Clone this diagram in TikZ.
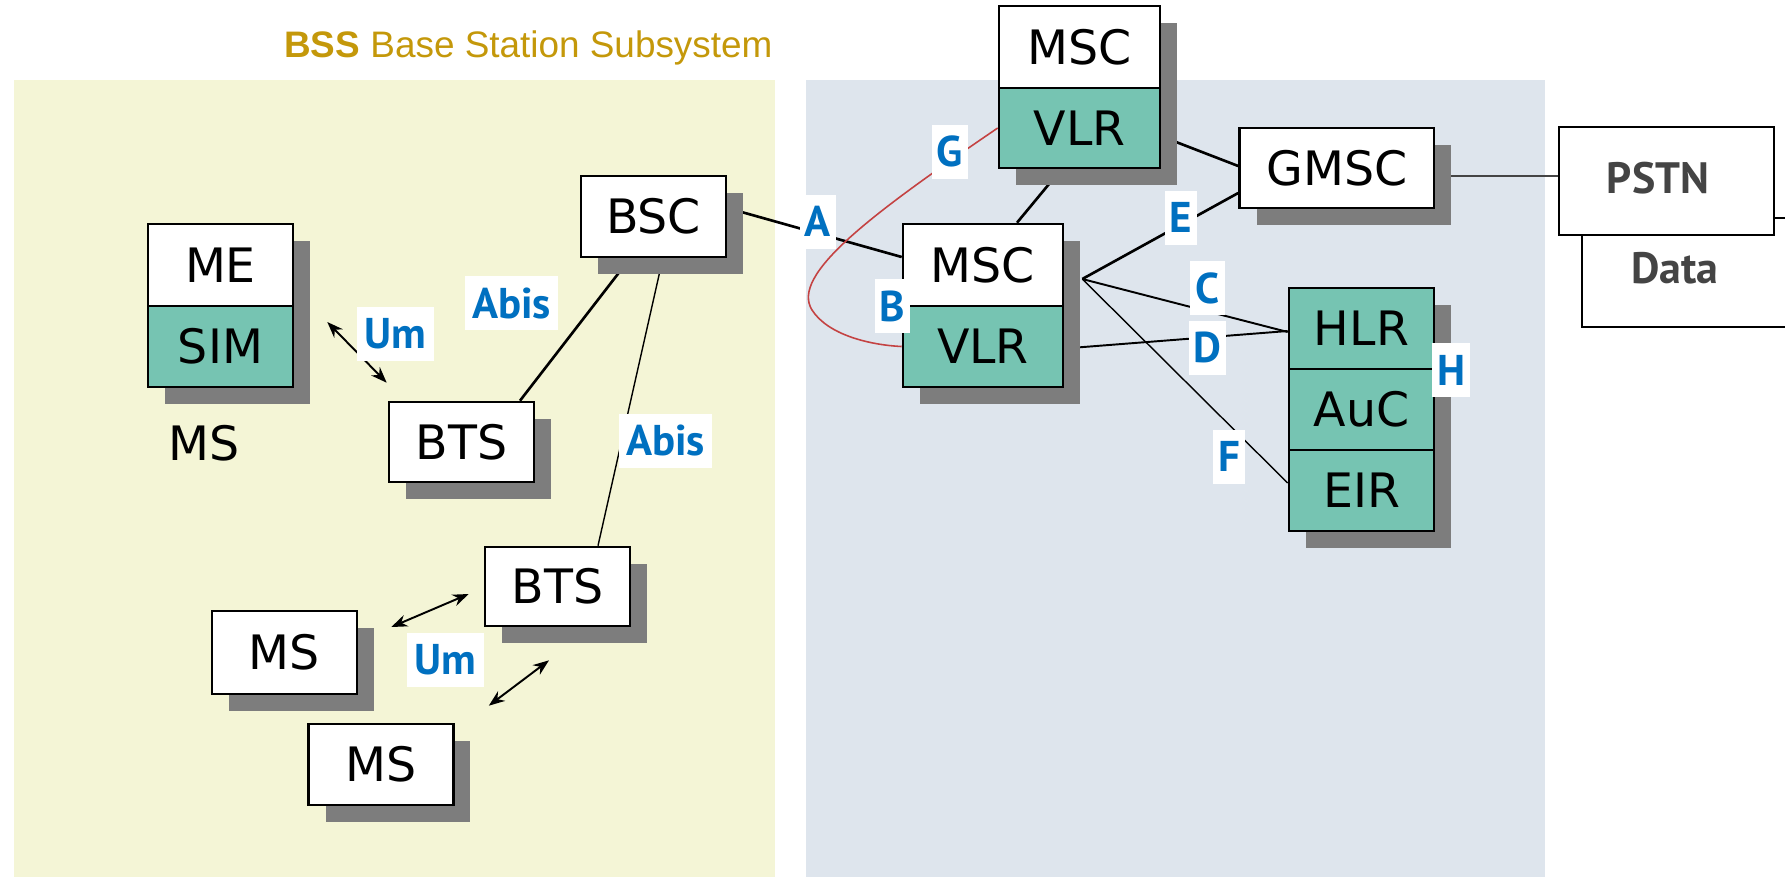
\documentclass[tikz,border=0pt]{standalone}
\usepackage{fontspec}
\newfontfamily\boxfont{DejaVu Sans}
\newfontfamily\tagfont{PT Sans}
\newfontfamily\headfont{Liberation Sans}
\usetikzlibrary{shadows,arrows.meta,calc}

\definecolor{panelyellow}{RGB}{244,245,214}
\definecolor{panelblue}{RGB}{222,229,237}
\definecolor{tealfill}{RGB}{118,196,178}
\definecolor{shadowgray}{RGB}{125,125,125}
\definecolor{tagblue}{RGB}{0,112,192}
\definecolor{titlegold}{RGB}{196,152,10}
\definecolor{netgray}{RGB}{68,68,68}
\definecolor{redlink}{RGB}{196,66,66}

\pgfdeclarelayer{panel}
\pgfdeclarelayer{wire}
\pgfsetlayers{panel,wire,main}

\tikzset{
  shade/.style={general shadow={fill=shadowgray, shadow xshift=0.34cm, shadow yshift=-0.34cm}},
  cell/.style={draw=black, line width=1.5pt, fill=white, inner sep=0pt,
    minimum width=2.9cm, minimum height=1.62cm,
    font=\boxfont\fontsize{27}{31}\selectfont, text=black},
  unitbox/.style={cell, shade},
  tealcell/.style={fill=tealfill},
  stack/.style={fill=white, inner sep=0pt, shade},
  plainbox/.style={draw=black, line width=1.5pt, fill=white, inner sep=0pt},
  nettext/.style={font=\tagfont\bfseries\fontsize{25}{29}\selectfont, text=netgray, inner sep=0pt},
  tag/.style={fill=white, text=tagblue, font=\tagfont\bfseries\fontsize{24.5}{28}\selectfont,
    inner xsep=0.15cm, inner ysep=0pt, minimum height=1.08cm},
  link/.style={line width=1.5pt, black},
  thinlink/.style={line width=0.8pt, black},
  midlink/.style={line width=1.1pt, black},
  gline/.style={line width=0.9pt, redlink},
  radio/.style={line width=1.1pt, black, {Stealth[length=0.32cm,width=0.24cm]}-{Stealth[length=0.32cm,width=0.24cm]}}
}

\begin{document}
\begin{tikzpicture}[x=0.02cm, y=-0.02cm]
\useasboundingbox (0,0) rectangle (1785,877);

% panels
\begin{pgfonlayer}{panel}
  \fill[panelyellow] (14,80) rectangle (775,877);
  \fill[panelblue] (806,80) rectangle (1545,877);
\end{pgfonlayer}

\node[anchor=base west, inner sep=0pt, font=\headfont\fontsize{21}{25}\selectfont, text=titlegold]
  (title) at (284,57) {\textbf{BSS} Base Station Subsystem};

% mobile station
\node[stack, minimum width=2.9cm, minimum height=3.26cm] (msstack) at (220.5,305.5) {};
\node[cell, minimum height=1.64cm] (me) at (220.5,265) {ME};
\node[cell, tealcell] (sim) at (220.5,346.5) {SIM};
\node[font=\boxfont\fontsize{27}{31}\selectfont, text=black, inner sep=0pt] (mscap) at (204,443) {MS};

% base station subsystem
\node[unitbox] (bsc) at (653.5,216.5) {BSC};
\node[unitbox, minimum height=1.6cm] (bts1) at (461.5,442) {BTS};
\node[unitbox, minimum height=1.58cm] (bts2) at (557.5,586.5) {BTS};
\node[unitbox, minimum height=1.66cm] (ms1) at (284.5,652.5) {MS};
\node[unitbox] (ms2) at (381,764.5) {MS};

% switching subsystem
\node[stack, minimum width=3.22cm, minimum height=3.24cm] (mscAstack) at (1079.5,87) {};
\node[cell, minimum width=3.22cm, minimum height=1.64cm] (mscA) at (1079.5,47) {MSC};
\node[cell, tealcell, minimum width=3.22cm, minimum height=1.6cm] (vlrA) at (1079.5,128) {VLR};

\node[stack, minimum width=3.2cm, minimum height=3.26cm] (mscBstack) at (983,305.5) {};
\node[cell, minimum width=3.2cm, minimum height=1.64cm] (mscB) at (983,265) {MSC};
\node[cell, tealcell, minimum width=3.2cm] (vlrB) at (983,346.5) {VLR};

\node[unitbox, minimum width=3.89cm, minimum height=1.6cm] (gmsc) at (1336.75,168) {GMSC};

\node[stack, minimum width=2.9cm, minimum height=4.86cm] (hlrstack) at (1361.5,409.5) {};
\node[cell, tealcell] (hlr) at (1361.5,328.5) {HLR};
\node[cell, tealcell] (auc) at (1361.5,409.5) {AuC};
\node[cell, tealcell] (eir) at (1361.5,490.5) {EIR};

% external networks
\node[plainbox, minimum width=4.56cm, minimum height=2.18cm] (data) at (1696,272.5) {};
\node[plainbox, minimum width=4.3cm, minimum height=2.16cm] (pstn) at (1666.5,181) {};
\node[nettext] (pstntext) at (1658,178) {PSTN};
\node[nettext] (datatext) at (1675,268) {Data};

% interfaces
\coordinate (hub) at ($(mscB.east)+(18,14)$);
\begin{pgfonlayer}{wire}
  \draw[link] ($(bsc.east)+(0,-8.5)$) -- ($(mscB.west)+(0,-8)$);
  \draw[link] ($(bsc.south)+(-23.5,0)$) -- ($(bts1.north)+(58.5,0)$);
  \draw[thinlink] ($(bsc.south)+(9.3,0)$) -- ($(bts2.north)+(40.5,0)$);
  \draw[link] ($(vlrA.east)+(0,8.3)$) -- ($(gmsc.west)+(0,-2)$);
  \draw[link] ($(vlrA.south)+(-18.3,0)$) -- ($(mscB.north)+(34,0)$);
  \draw[link] (hub) -- ($(gmsc.west)+(0,25)$);
  \draw[midlink] (hub) -- ($(hlr.west)+(0,3.5)$);
  \draw[midlink] ($(vlrB.east)+(0,2)$) -- ($(hlr.west)+(0,2.5)$);
  \draw[thinlink] (hub) -- ($(eir.west)+(0,-7.5)$);
  \draw[midlink, netgray] ($(gmsc.east)+(0,8)$) -- ($(pstn.west)+(0,-5)$);
  \draw[gline] (vlrA.west) .. controls (870,215) and (790,275) .. (812,310)
                           .. controls (828,335) and (870,345) .. (vlrB.west);
  \draw[radio] ($(sim.east)+(33,-24.5)$) -- ($(bts1.north west)+(-1,-18)$);
  \draw[radio] ($(bts2.west)+(-15,7.5)$) -- ($(ms1.east)+(33,-25.5)$);
  \draw[radio] ($(bts2.south)+(-8.5,33)$) -- ($(ms2.north east)+(34,-17)$);
\end{pgfonlayer}

% interface labels
\node[tag] (tAbis1) at (511.5,303) {Abis};
\node[tag] (tUm1) at (395.5,334) {Um};
\node[tag] (tAbis2) at (665.5,440.5) {Abis};
\node[tag, inner xsep=0.09cm] (tA) at (818,221.5) {A};
\node[tag, inner xsep=0.1cm] (tB) at (892.5,306) {B};
\node[tag, inner xsep=0.1cm] (tG) at (950,151.5) {G};
\node[tag, inner xsep=0.1cm] (tE) at (1181,217.5) {E};
\node[tag, inner xsep=0.1cm] (tC) at (1207.5,288) {C};
\node[tag, inner xsep=0.1cm] (tD) at (1207.5,347.5) {D};
\node[tag, inner xsep=0.1cm] (tH) at (1451,370) {H};
\node[tag, inner xsep=0.1cm] (tF) at (1229,456.5) {F};
\node[tag] (tUm2) at (445.5,660) {Um};
\end{tikzpicture}
\end{document}
